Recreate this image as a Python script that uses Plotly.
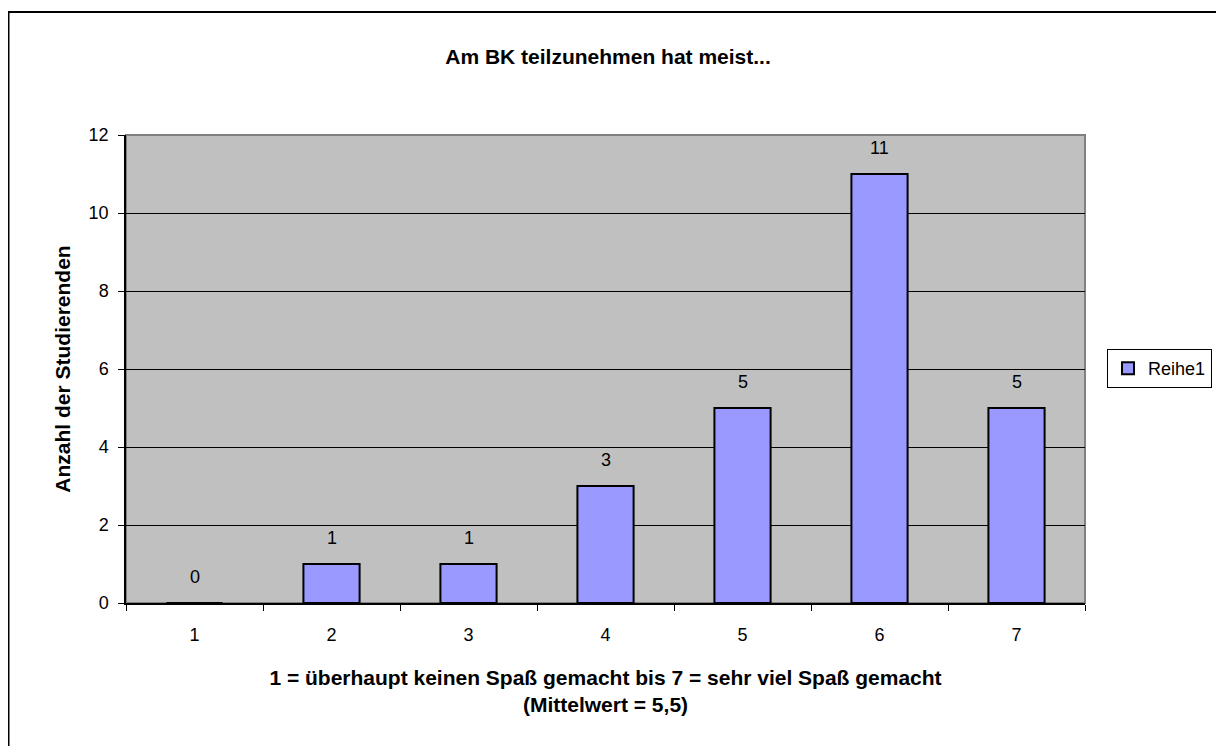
import plotly.graph_objects as go

categories = ["1", "2", "3", "4", "5", "6", "7"]
values = [0, 1, 1, 3, 5, 11, 5]
series_name = "Reihe1"
y_ticks = [0, 2, 4, 6, 8, 10, 12]

title_text = "Am BK teilzunehmen hat meist..."
x_title = "1 = überhaupt keinen Spaß gemacht bis 7 = sehr viel Spaß gemacht<br>(Mittelwert = 5,5)"
y_title = "Anzahl der Studierenden"

FONT = "Liberation Sans, Arial, sans-serif"

# page has an 8px body margin; figure coordinates are screen minus 8
OFF = 8
W, H = 1224 - 2 * OFF, 754 - 2 * OFF
L, R, T, B = 126 - OFF, 1085 - OFF, 135 - OFF, 603 - OFF
PW, PH = R - L, B - T

fig = go.Figure()
fig.add_trace(go.Bar(
    x=categories, y=values, name=series_name,
    marker=dict(color="#9999FF", line=dict(color="black", width=2)),
    width=0.41, showlegend=True,
))

for i, v in enumerate(values):
    fig.add_annotation(x=i, y=v, xref="x", yref="y", text=str(v), showarrow=False,
                       yshift=26, yanchor="middle",
                       font=dict(family=FONT, size=18, color="black"))

# outer chart border (only top + left visible in the frame)
fig.add_shape(type="rect", xref="paper", yref="paper",
              x0=(0.5 - L) / PW, x1=(1400 - L) / PW,
              y0=(B - 900) / PH, y1=(B - 4) / PH,
              line=dict(color="black", width=2), fillcolor="rgba(0,0,0,0)", layer="above")
# plot area border (gray)
fig.add_shape(type="rect", xref="paper", yref="paper", x0=0, x1=1, y0=0, y1=1,
              line=dict(color="#808080", width=2), fillcolor="rgba(0,0,0,0)", layer="below")

fig.update_layout(
    width=W, height=H,
    margin=dict(l=L, r=W - R, t=T, b=H - B, autoexpand=False),
    paper_bgcolor="white", plot_bgcolor="#C0C0C0",
    font=dict(family=FONT, size=18, color="black"),
    title=dict(text="<b>" + title_text + "</b>", x=600 / W, xanchor="center",
               y=1 - 49 / H, yanchor="middle", font=dict(family=FONT, size=21)),
    legend=dict(x=(1099 - L) / PW, xanchor="left", y=(B - 341) / PH, yanchor="top",
                bordercolor="black", borderwidth=1, bgcolor="white",
                font=dict(family=FONT, size=18), itemwidth=30, tracegroupgap=0),
)
fig.update_xaxes(
    type="category", range=[-0.5, 6.5], showgrid=False, showline=True,
    linecolor="black", linewidth=1.5,
    ticks="outside", ticklen=6, tickcolor="black", tickson="boundaries",
    tickfont=dict(family=FONT, size=18), ticklabelstandoff=15,
    title=dict(text="<b>" + x_title + "</b>", font=dict(family=FONT, size=21), standoff=26),
)
fig.update_yaxes(
    range=[0, 12], tickvals=y_ticks, showgrid=True, gridcolor="black", gridwidth=1,
    showline=True, linecolor="black", linewidth=1.5, ticks="outside", ticklen=6,
    tickcolor="black", tickfont=dict(family=FONT, size=18), ticklabelstandoff=6,
    title=dict(text="<b>" + y_title + "</b>", font=dict(family=FONT, size=21), standoff=12),
    zeroline=False,
)

fig.write_html("out.html")
